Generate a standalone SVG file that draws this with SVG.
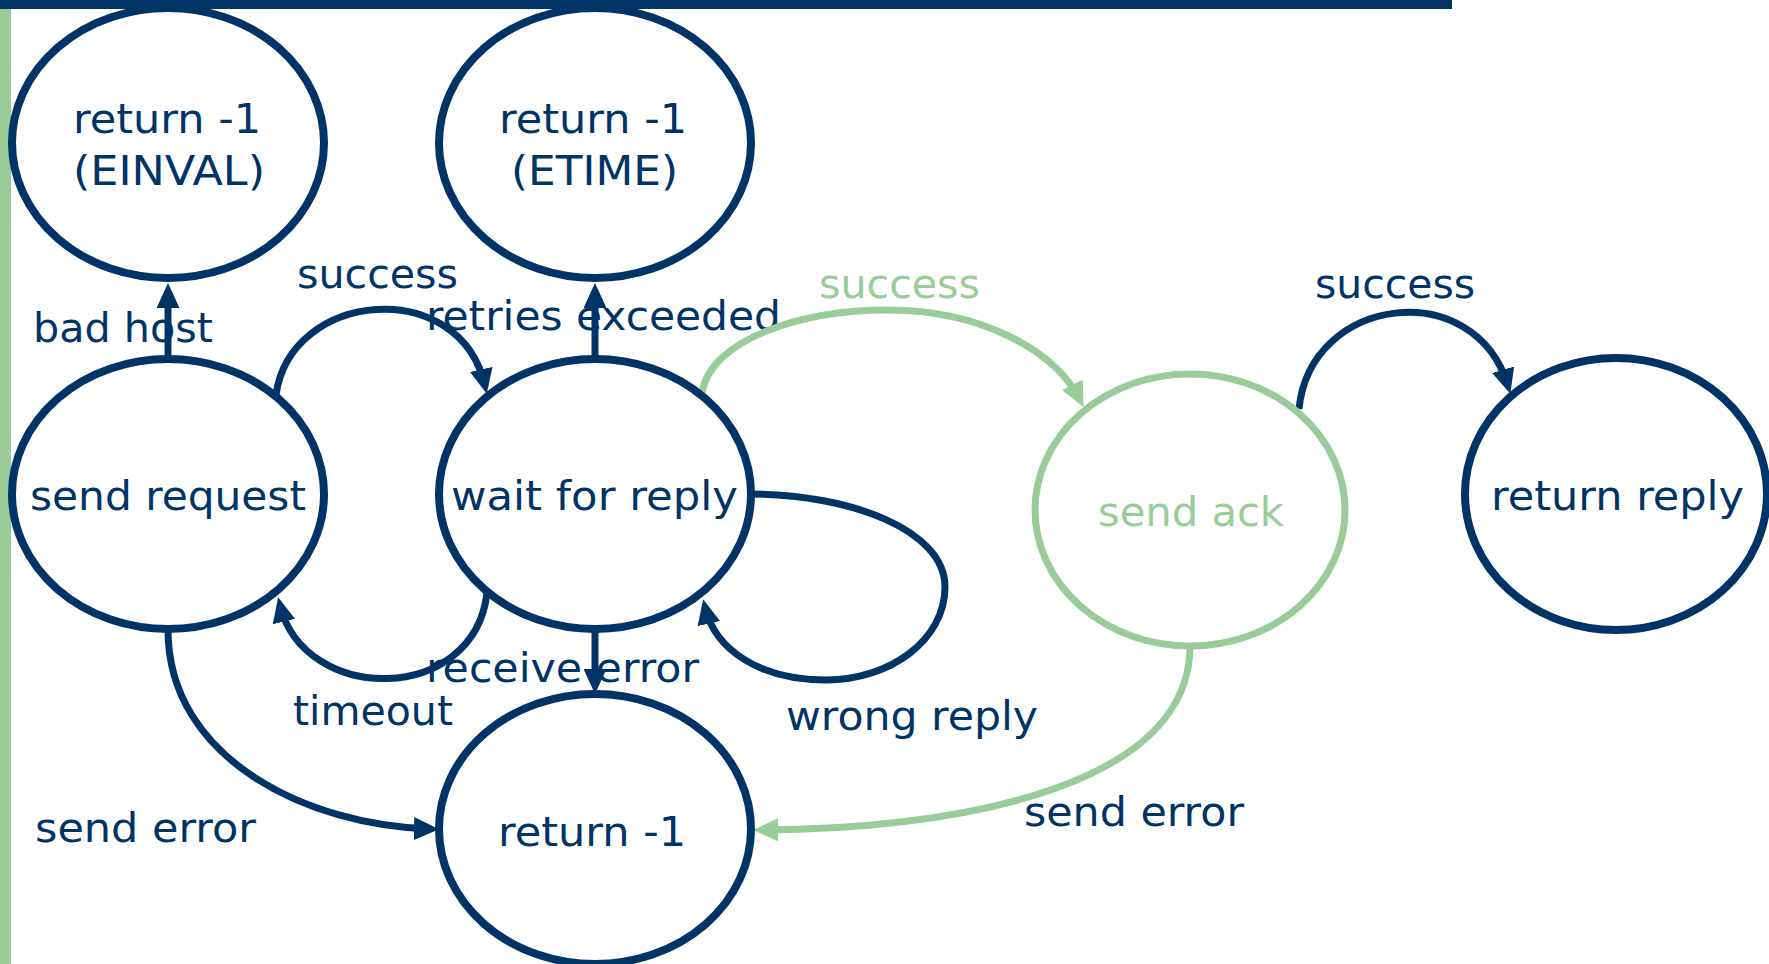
<svg xmlns="http://www.w3.org/2000/svg" width="1769" height="964" viewBox="0 0 1769 964">
<style>
.nav{fill:none;stroke:#003366;stroke-width:8}
.grn{fill:none;stroke:#99CC99;stroke-width:7}
.cn{fill:none;stroke:#003366;stroke-width:7}
.cg{fill:none;stroke:#99CC99;stroke-width:7}
text{font-family:"DejaVu Sans","Liberation Sans",sans-serif;font-size:40px;fill:#003366}
.tg{fill:#99CC99}
</style>
<defs>
<marker id="an" markerUnits="userSpaceOnUse" markerWidth="25" markerHeight="23" refX="17" refY="11.5" orient="auto" viewBox="0 0 25 23">
<path d="M0,0 L25,11.5 L0,23 z" fill="#003366"/>
</marker>
<marker id="ag" markerUnits="userSpaceOnUse" markerWidth="25" markerHeight="23" refX="17" refY="11.5" orient="auto" viewBox="0 0 25 23">
<path d="M0,0 L25,11.5 L0,23 z" fill="#99CC99"/>
</marker>
</defs>
<rect x="0" y="0" width="1452" height="9" fill="#003366"/>
<rect x="0" y="9" width="11" height="955" fill="#99CC99"/>

<g id="labels">
<text x="297" y="288" textLength="161" lengthAdjust="spacingAndGlyphs">success</text>
<text x="33" y="342" textLength="180" lengthAdjust="spacingAndGlyphs">bad host</text>
<text x="426" y="330" textLength="355" lengthAdjust="spacingAndGlyphs">retries exceeded</text>
<text class="tg" x="819" y="298" textLength="161" lengthAdjust="spacingAndGlyphs">success</text>
<text x="1315" y="298" textLength="160" lengthAdjust="spacingAndGlyphs">success</text>
<text x="293" y="725" textLength="160" lengthAdjust="spacingAndGlyphs">timeout</text>
<text x="426" y="682" textLength="273" lengthAdjust="spacingAndGlyphs">receive error</text>
<text x="786" y="730" textLength="252" lengthAdjust="spacingAndGlyphs">wrong reply</text>
<text x="1024" y="826" textLength="220" lengthAdjust="spacingAndGlyphs">send error</text>
<text x="35" y="842" textLength="221" lengthAdjust="spacingAndGlyphs">send error</text>
</g>

<g id="connectors">
<path class="cn" d="M168,359 L168,291" marker-end="url(#an)"/>
<path class="cn" d="M595,359 L595,291" marker-end="url(#an)"/>
<path class="cn" d="M595,629 L595,686" marker-end="url(#an)"/>
<path class="cn" d="M276,395 C290,290 460,275 485,386" marker-end="url(#an)"/>
<path class="cn" d="M487,593 C474,705 304,705 280,605" marker-end="url(#an)"/>
<path class="cn" d="M749,494 C850,494 945,530 945,587 C945,640 890,680 826,680 C760,680 715,650 705,607" marker-end="url(#an)"/>
<path class="cn" d="M168,630 C168,760 310,826 431,829" marker-end="url(#an)"/>
<path class="cg" d="M702,393 C710,340 800,310 888,310 C980,310 1055,350 1080,400" marker-end="url(#ag)"/>
<path class="cn" d="M1299,409 C1310,295 1475,275 1508,386" marker-end="url(#an)"/>
<path class="cg" d="M1190,646 C1190,780 980,828 761,830" marker-end="url(#ag)"/>
</g>

<g id="n-einval">
<ellipse class="nav" cx="168" cy="143" rx="156" ry="135"/>
<text x="73" y="133" textLength="188" lengthAdjust="spacingAndGlyphs">return -1</text>
<text x="73" y="185" textLength="192" lengthAdjust="spacingAndGlyphs">(EINVAL)</text>
</g>
<g id="n-etime">
<ellipse class="nav" cx="595" cy="143" rx="156" ry="135"/>
<text x="499" y="133" textLength="188" lengthAdjust="spacingAndGlyphs">return -1</text>
<text x="511" y="185" textLength="167" lengthAdjust="spacingAndGlyphs">(ETIME)</text>
</g>
<g id="n-send-request">
<ellipse class="nav" cx="168" cy="494" rx="156" ry="135"/>
<text x="30" y="510" textLength="276" lengthAdjust="spacingAndGlyphs">send request</text>
</g>
<g id="n-wait">
<ellipse class="nav" cx="595" cy="494" rx="156" ry="135"/>
<text x="451" y="510" textLength="287" lengthAdjust="spacingAndGlyphs">wait for reply</text>
</g>
<g id="n-return">
<ellipse class="nav" cx="595" cy="829" rx="156" ry="135"/>
<text x="498" y="846" textLength="188" lengthAdjust="spacingAndGlyphs">return -1</text>
</g>
<g id="n-send-ack">
<ellipse class="grn" cx="1190" cy="510" rx="155" ry="136"/>
<text class="tg" x="1098" y="526" textLength="186" lengthAdjust="spacingAndGlyphs">send ack</text>
</g>
<g id="n-return-reply">
<ellipse class="nav" cx="1616" cy="494" rx="151" ry="136"/>
<text x="1491" y="510" textLength="253" lengthAdjust="spacingAndGlyphs">return reply</text>
</g>
</svg>
